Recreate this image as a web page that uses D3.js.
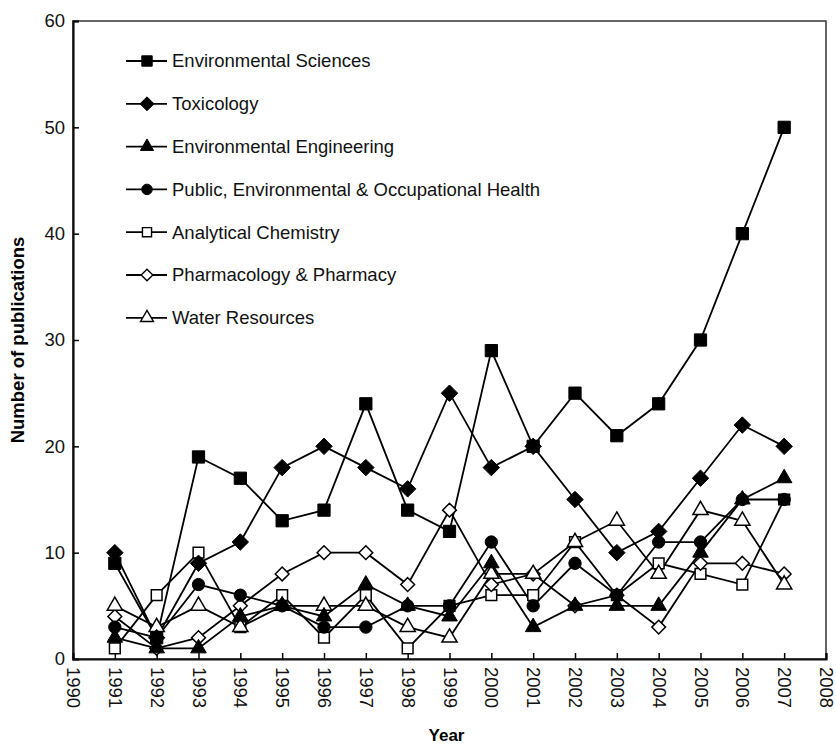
<!DOCTYPE html>
<html>
<head>
<meta charset="utf-8">
<script src="https://cdn.jsdelivr.net/npm/d3@7"></script>
<style>
  body { margin: 0; background: #fff; }
  svg { display: block; font-family: "Liberation Sans", Arial, sans-serif; }
</style>
</head>
<body>
<svg id="chart" width="836" height="746"></svg>
<script>
// data
const years = [1991, 1992, 1993, 1994, 1995, 1996, 1997, 1998, 1999, 2000, 2001, 2002, 2003, 2004, 2005, 2006, 2007];
const envSciences = [9, 2, 19, 17, 13, 14, 24, 14, 12, 29, 20, 25, 21, 24, 30, 40, 50];
const toxicology = [10, 2, 9, 11, 18, 20, 18, 16, 25, 18, 20, 15, 10, 12, 17, 22, 20];
const envEngineering = [2, 1, 1, 4, 5, 4, 7, 5, 4, 9, 3, 5, 5, 5, 10, 15, 17];
const publicHealth = [3, 2, 7, 6, 5, 3, 3, 5, 5, 11, 5, 9, 6, 11, 11, 15, 15];
const analyticalChem = [1, 6, 10, 3, 6, 2, 6, 1, 5, 6, 6, 11, 6, 9, 8, 7, 15];
const pharmacology = [4, 1, 2, 5, 8, 10, 10, 7, 14, 7, 8, 5, 6, 3, 9, 9, 8];
const waterResources = [5, 3, 5, 3, 5, 5, 5, 3, 2, 8, 8, 11, 13, 8, 14, 13, 7];

const xTicks = d3.range(1990, 2009);
const yTicks = [0, 10, 20, 30, 40, 50, 60];

// diamond drawn as a rotated square (d3's own diamond is too tall)
const symbolRhomb = {
  draw(context, size) {
    const r = Math.sqrt(size / 2);
    context.moveTo(0, -r);
    context.lineTo(r, 0);
    context.lineTo(0, r);
    context.lineTo(-r, 0);
    context.closePath();
  }
};

const series = [
  { name: 'Environmental Sciences', values: envSciences, shape: d3.symbolSquare, size: 150, filled: true },
  { name: 'Toxicology', values: toxicology, shape: symbolRhomb, size: 135, filled: true },
  { name: 'Environmental Engineering', values: envEngineering, shape: d3.symbolTriangle, size: 105, filled: true },
  { name: 'Public, Environmental & Occupational Health', values: publicHealth, shape: d3.symbolCircle, size: 120, filled: true },
  { name: 'Analytical Chemistry', values: analyticalChem, shape: d3.symbolSquare, size: 115, filled: false },
  { name: 'Pharmacology & Pharmacy', values: pharmacology, shape: symbolRhomb, size: 95, filled: false },
  { name: 'Water Resources', values: waterResources, shape: d3.symbolTriangle, size: 100, filled: false }
];

const margin = { top: 21, right: 10, bottom: 87, left: 73 };
const width = 836 - margin.left - margin.right;
const height = 746 - margin.top - margin.bottom;
const fontSize = 18.5;

const svg = d3.select('#chart');
const g = svg.append('g')
  .attr('transform', 'translate(' + margin.left + ',' + margin.top + ')');

const x = d3.scaleLinear().domain([1990, 2008]).range([0, width]);
const y = d3.scaleLinear().domain([0, 60]).range([height, 0]);

// frame
g.append('rect')
  .attr('width', width)
  .attr('height', height)
  .attr('fill', 'none')
  .attr('stroke', '#333')
  .attr('stroke-width', 1.5);

// Y axis, ticks pointing inward
const yAxis = g.append('g')
  .call(d3.axisLeft(y).tickValues(yTicks).tickSize(-6).tickPadding(8));
yAxis.select('.domain').attr('stroke-width', 2.2).attr('stroke', '#111');
yAxis.selectAll('line').attr('stroke-width', 1.5);
yAxis.selectAll('text').attr('font-size', fontSize).attr('fill', '#111')
  .attr('font-family', '"Liberation Sans", Arial, sans-serif');

// X axis, ticks pointing inward, labels rotated
const xAxis = g.append('g')
  .attr('transform', 'translate(0,' + height + ')')
  .call(d3.axisBottom(x).tickValues(xTicks).tickFormat(d3.format('d')).tickSize(-6));
xAxis.select('.domain').attr('stroke-width', 2.2).attr('stroke', '#111');
xAxis.selectAll('line').attr('stroke-width', 1.5);
xAxis.selectAll('text')
  .attr('font-size', fontSize).attr('fill', '#111')
  .attr('font-family', '"Liberation Sans", Arial, sans-serif')
  .attr('y', 0).attr('dy', 0)
  .attr('text-anchor', 'start')
  .attr('dominant-baseline', 'central')
  .attr('transform', 'translate(0,8) rotate(90)');

// axis titles
svg.append('text')
  .attr('x', margin.left + width / 2 - 3)
  .attr('y', 741)
  .attr('text-anchor', 'middle')
  .attr('font-size', 17).attr('font-weight', 'bold')
  .text('Year');

svg.append('text')
  .attr('transform', 'translate(24,' + (margin.top + height / 2) + ') rotate(-90)')
  .attr('text-anchor', 'middle')
  .attr('font-size', 18.5).attr('font-weight', 'bold')
  .text('Number of publications');

const line = d3.line()
  .x((d, i) => x(years[i]))
  .y(d => y(d));

// lines first
series.forEach(s => {
  g.append('path')
    .datum(s.values)
    .attr('d', line)
    .attr('fill', 'none')
    .attr('stroke', '#000')
    .attr('stroke-width', 1.8);
});

// open markers under the filled ones, as in the original
const drawOrder = series.filter(s => !s.filled).concat(series.filter(s => s.filled));
drawOrder.forEach(s => {
  g.selectAll(null)
    .data(s.values)
    .enter()
    .append('path')
    .attr('d', d3.symbol().type(s.shape).size(s.size))
    .attr('transform', (d, i) => 'translate(' + x(years[i]) + ',' + y(d) + ')')
    .attr('fill', s.filled ? '#000' : '#fff')
    .attr('stroke', '#000')
    .attr('stroke-width', s.filled ? 1 : 1.5);
});

// legend
const legend = g.append('g').attr('transform', 'translate(53,40)');
series.forEach((s, i) => {
  const row = legend.append('g').attr('transform', 'translate(0,' + (i * 42.8) + ')');
  row.append('line')
    .attr('x1', 0).attr('x2', 41)
    .attr('stroke', '#000').attr('stroke-width', 1.8);
  row.append('path')
    .attr('d', d3.symbol().type(s.shape).size(s.size * 0.72))
    .attr('transform', 'translate(21,0)')
    .attr('fill', s.filled ? '#000' : '#fff')
    .attr('stroke', '#000')
    .attr('stroke-width', s.filled ? 1 : 1.4);
  row.append('text')
    .attr('x', 46)
    .attr('dy', '0.35em')
    .attr('font-size', fontSize)
    .attr('fill', '#111')
    .text(s.name);
});
</script>
</body>
</html>
